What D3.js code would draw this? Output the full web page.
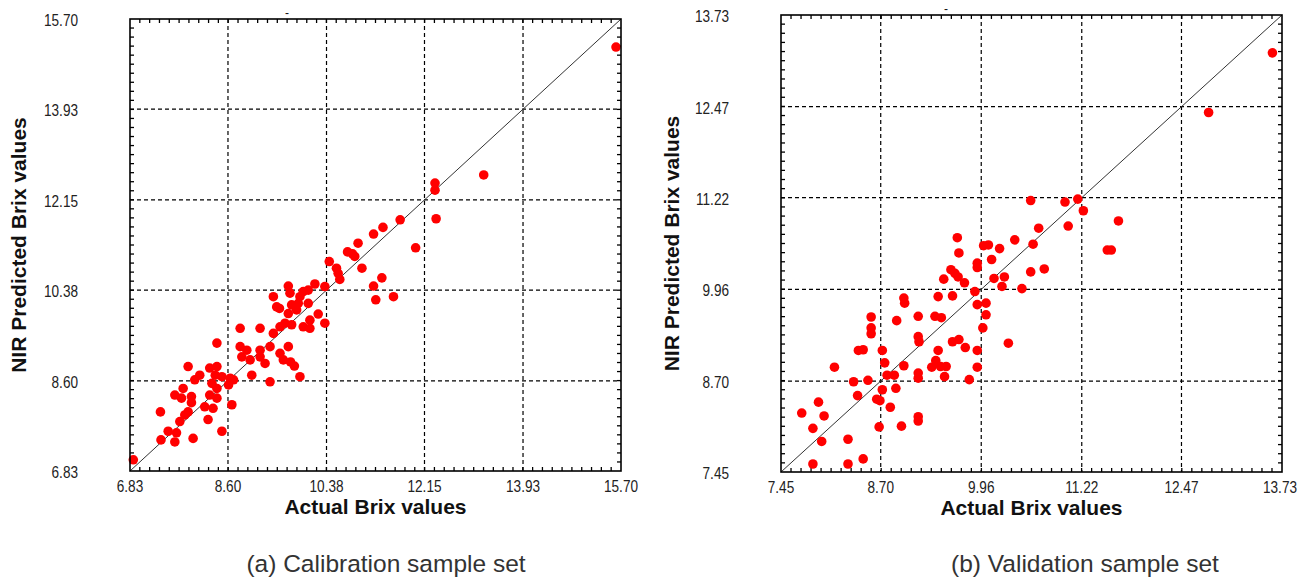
<!DOCTYPE html>
<html>
<head>
<meta charset="utf-8">
<script src="https://cdn.jsdelivr.net/npm/d3@7"></script>
<style>
  body { margin: 0; background: #fff; }
  text { font-family: "Liberation Sans", Arial, sans-serif; }
</style>
</head>
<body>
<div id="viz"></div>
<script>
const width = 1298;
const height = 580;

// (a) calibration set - actual vs predicted brix
const calActual = [15.61, 13.22, 12.34, 12.34, 12.36, 11.99, 11.71, 11.40, 11.23, 10.95,
  10.76, 10.85, 10.89, 10.43, 11.02, 10.56, 10.59, 10.62, 11.38, 11.23,
  11.59, 11.27, 10.35, 10.17, 10.05, 9.96, 9.69, 9.72, 9.42, 9.90,
  9.53, 9.75, 9.87, 10.05, 9.69, 9.84, 10.23, 10.08, 10.35, 9.63,
  9.75, 8.82, 9.18, 9.54, 9.96, 10.08, 9.48, 8.40, 8.82, 8.94,
  9.18, 9.36, 9.42, 8.85, 9.00, 9.18, 9.27, 9.60, 9.54, 7.88,
  8.09, 8.00, 8.27, 8.40, 8.37, 8.49, 8.64, 8.70, 9.03, 9.36,
  8.31, 8.40, 8.61, 7.79, 7.64, 7.94, 8.27, 8.40, 7.76, 7.94,
  8.67, 8.18, 8.33, 7.88, 7.82, 7.38, 7.73, 8.24, 7.52, 7.67,
  8.49, 7.39, 7.64, 7.97, 6.89, 9.90, 9.80, 9.73, 9.69];
const calPredicted = [15.15, 12.64, 12.48, 12.34, 11.78, 11.21, 11.76, 11.61, 11.48, 11.30,
  11.13, 11.09, 11.04, 10.94, 10.81, 10.81, 10.71, 10.59, 10.62, 10.46,
  10.25, 10.19, 10.45, 10.50, 10.38, 10.35, 10.46, 10.32, 10.25, 10.25,
  10.02, 10.09, 10.12, 10.12, 9.92, 9.99, 9.91, 9.79, 9.73, 9.73,
  9.70, 9.63, 9.63, 9.66, 9.66, 9.63, 10.05, 9.34, 9.27, 9.20,
  9.20, 9.27, 9.53, 9.07, 9.01, 9.07, 8.94, 9.01, 9.14, 8.88,
  8.71, 8.62, 8.85, 8.88, 8.71, 8.68, 8.65, 8.62, 8.71, 8.58,
  8.55, 8.45, 8.52, 8.45, 8.32, 8.29, 8.32, 8.26, 8.26, 8.17,
  8.13, 8.09, 8.06, 7.99, 7.93, 7.99, 7.80, 7.84, 7.61, 7.58,
  7.61, 7.44, 7.40, 7.47, 7.05, 8.68, 8.89, 8.97, 9.27];

// (b) validation set
const valActual = [13.61, 12.81, 10.58, 11.01, 11.17, 11.24, 11.68, 11.05, 10.68, 10.38,
  10.61, 9.66, 9.68, 9.99, 10.05, 10.19, 10.09, 11.54, 11.59, 9.91,
  9.91, 9.58, 9.63, 9.67, 9.49, 9.75, 10.58, 10.75, 10.12, 10.25,
  10.22, 10.47, 9.88, 9.60, 9.42, 8.99, 9.00, 10.02, 9.91, 10.02,
  9.17, 9.38, 9.46, 8.90, 8.58, 8.58, 8.58, 9.98, 9.17, 9.18,
  9.60, 9.68, 9.76, 10.30, 9.42, 9.91, 8.42, 8.48, 8.72, 8.75,
  8.99, 9.39, 9.34, 9.45, 9.52, 9.91, 8.12, 9.17, 9.17, 8.78,
  8.87, 9.50, 9.81, 8.36, 8.54, 8.72, 8.89, 8.41, 8.65, 8.69,
  8.82, 7.92, 7.71, 7.99, 9.17, 9.17, 7.85, 8.68, 8.96, 7.96,
  8.29, 7.85, 8.29, 8.48];
const valPredicted = [13.21, 12.39, 11.18, 11.16, 11.20, 11.04, 10.90, 10.83, 10.80, 10.64,
  10.58, 10.67, 10.46, 10.56, 10.57, 10.52, 10.37, 10.50, 10.50, 10.32,
  10.26, 10.23, 10.18, 10.13, 10.10, 10.05, 10.20, 10.24, 10.11, 10.13,
  10.00, 9.97, 9.93, 9.87, 9.86, 9.84, 9.77, 9.77, 9.75, 9.61,
  9.59, 9.59, 9.57, 9.53, 9.58, 9.43, 9.35, 9.43, 9.31, 9.24,
  9.24, 9.27, 9.16, 9.22, 9.12, 9.12, 9.12, 9.13, 9.12, 8.95,
  8.91, 8.98, 8.89, 8.90, 8.90, 8.89, 8.89, 8.81, 8.74, 8.78,
  8.78, 8.76, 8.72, 8.69, 8.71, 8.58, 8.60, 8.50, 8.45, 8.43,
  8.34, 8.41, 8.26, 8.22, 8.21, 8.15, 8.05, 8.07, 8.08, 7.87,
  7.90, 7.56, 7.56, 7.63];

const calTicks = ['6.83', '8.60', '10.38', '12.15', '13.93', '15.70'];
const valTicks = ['7.45', '8.70', '9.96', '11.22', '12.47', '13.73'];

const xTitle = 'Actual Brix values';
const yTitle = 'NIR Predicted Brix values';

const svg = d3.select('#viz')
  .append('svg')
  .attr('width', width)
  .attr('height', height);

const drawPanel = (opt) => {
  const ticks = opt.ticks.map(t => +t);
  const lo = ticks[0], hi = ticks[ticks.length - 1];

  const x = d3.scaleLinear().domain([lo, hi]).range([opt.left, opt.right]);
  const y = d3.scaleLinear().domain([lo, hi]).range([opt.bottom, opt.top]);

  const g = svg.append('g');

  // minor ticks, 10 per major step, on all four sides
  const step = (hi - lo) / 50;
  const minor = d3.range(1, 50).map(i => lo + i * step);
  const tl = 4;
  g.append('g').selectAll('line').data(minor).join('line')
    .attr('x1', d => x(d)).attr('x2', d => x(d))
    .attr('y1', opt.top).attr('y2', opt.top + tl)
    .attr('stroke', '#000').attr('stroke-width', 1.3);
  g.append('g').selectAll('line').data(minor).join('line')
    .attr('x1', d => x(d)).attr('x2', d => x(d))
    .attr('y1', opt.bottom).attr('y2', opt.bottom - tl)
    .attr('stroke', '#000').attr('stroke-width', 1.3);
  g.append('g').selectAll('line').data(minor).join('line')
    .attr('y1', d => y(d)).attr('y2', d => y(d))
    .attr('x1', opt.left).attr('x2', opt.left + tl)
    .attr('stroke', '#000').attr('stroke-width', 1.3);
  g.append('g').selectAll('line').data(minor).join('line')
    .attr('y1', d => y(d)).attr('y2', d => y(d))
    .attr('x1', opt.right).attr('x2', opt.right - tl)
    .attr('stroke', '#000').attr('stroke-width', 1.3);

  // dashed grid
  const inner = ticks.slice(1, -1);
  g.append('g').selectAll('line').data(inner).join('line')
    .attr('x1', d => x(d)).attr('x2', d => x(d))
    .attr('y1', opt.top).attr('y2', opt.bottom)
    .attr('stroke', '#000').attr('stroke-width', 1.2).attr('stroke-dasharray', '4,3');
  g.append('g').selectAll('line').data(inner).join('line')
    .attr('y1', d => y(d)).attr('y2', d => y(d))
    .attr('x1', opt.left).attr('x2', opt.right)
    .attr('stroke', '#000').attr('stroke-width', 1.2).attr('stroke-dasharray', '4,3');

  // 1:1 line
  g.append('line')
    .attr('x1', x(lo)).attr('y1', y(lo))
    .attr('x2', x(hi)).attr('y2', y(hi))
    .attr('stroke', '#333').attr('stroke-width', 1);

  // points
  g.append('g').attr('fill', '#ff0000')
    .selectAll('circle')
    .data(opt.xs.map((v, i) => [v, opt.ys[i]]))
    .join('circle')
      .attr('cx', d => x(d[0]))
      .attr('cy', d => y(d[1]))
      .attr('r', 4.8);

  // frame
  g.append('rect')
    .attr('x', opt.left).attr('y', opt.top)
    .attr('width', opt.right - opt.left).attr('height', opt.bottom - opt.top)
    .attr('fill', 'none').attr('stroke', '#000').attr('stroke-width', 1.6);

  // tick labels - condensed look, squeezed horizontally
  const sx = 0.8;
  const xl = g.append('g').selectAll('text').data(opt.ticks).join('text')
    .attr('transform', d => `translate(${x(+d)}, ${opt.bottom + 21}) scale(${sx}, 1)`)
    .attr('text-anchor', 'middle')
    .style('font-size', '17px').style('fill', '#222')
    .text(d => d);
  // keep the last label inside the page
  xl.attr('transform', function(d) {
    const half = this.getComputedTextLength() * sx / 2;
    const cx = Math.min(x(+d), width - 1 - half);
    return `translate(${cx}, ${opt.bottom + 21}) scale(${sx}, 1)`;
  });
  g.append('g').selectAll('text').data(opt.ticks).join('text')
    .attr('transform', d => `translate(${opt.left - 52}, ${y(+d) + 7}) scale(${sx}, 1)`)
    .attr('text-anchor', 'end')
    .style('font-size', '17px').style('fill', '#222')
    .text(d => d);

  // titles
  g.append('text')
    .attr('x', (opt.left + opt.right) / 2).attr('y', opt.bottom + 43)
    .attr('text-anchor', 'middle')
    .style('font-size', '21px').style('font-weight', 'bold').style('fill', '#111')
    .text(xTitle);
  g.append('text')
    .attr('transform', `translate(${opt.yTitleX}, ${(opt.top + opt.bottom) / 2}) rotate(-90)`)
    .attr('text-anchor', 'middle').attr('dy', '0.36em')
    .style('font-size', '21px').style('font-weight', 'bold').style('fill', '#111')
    .text(yTitle);

  // empty chart title dash
  g.append('text')
    .attr('x', opt.dashX).attr('y', opt.top - 2)
    .attr('text-anchor', 'middle')
    .style('font-size', '12px').style('fill', '#111')
    .text('-');

  // caption
  svg.append('text')
    .attr('x', opt.capX).attr('y', 572)
    .attr('text-anchor', 'middle')
    .style('font-size', '24.5px').style('fill', '#333')
    .text(opt.caption);
};

drawPanel({
  xs: calActual, ys: calPredicted, ticks: calTicks,
  left: 130, right: 621, top: 19, bottom: 471,
  yTitleX: 18, dashX: 287, capX: 386,
  caption: '(a) Calibration sample set'
});

drawPanel({
  xs: valActual, ys: valPredicted, ticks: valTicks,
  left: 781, right: 1282, top: 15, bottom: 472,
  yTitleX: 671, dashX: 946, capX: 1085,
  caption: '(b) Validation sample set'
});
</script>
</body>
</html>
